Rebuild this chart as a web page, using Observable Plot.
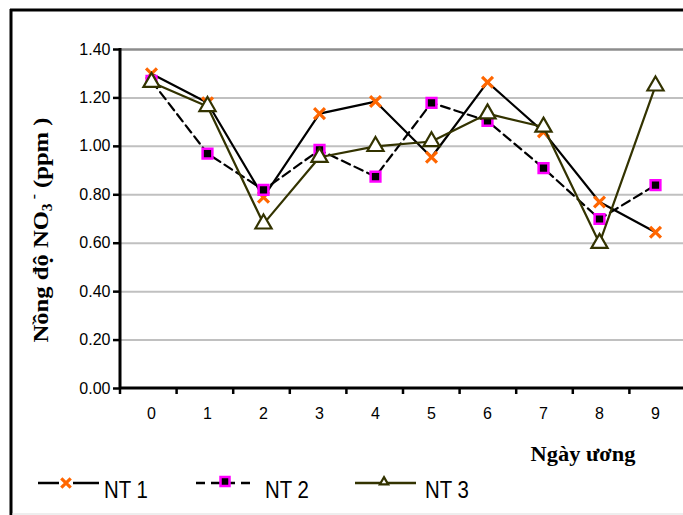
<!DOCTYPE html>
<html>
<head>
<meta charset="utf-8">
<script src="https://cdn.jsdelivr.net/npm/d3@7"></script>
<script src="https://cdn.jsdelivr.net/npm/@observablehq/plot@0.6"></script>
<style>
  html, body { margin: 0; padding: 0; background: #fff; }
  #chart { position: relative; width: 683px; height: 515px; }
</style>
</head>
<body>
<div id="chart"></div>
<script>
const days = ["0","1","2","3","4","5","6","7","8","9"];
const nt1 = [1.30, 1.18, 0.79, 1.135, 1.185, 0.955, 1.265, 1.06, 0.77, 0.645];
const nt2 = [1.27, 0.97, 0.82, 0.985, 0.875, 1.18, 1.105, 0.91, 0.70, 0.84];
const nt3 = [1.265, 1.165, 0.68, 0.955, 1.00, 1.02, 1.135, 1.08, 0.60, 1.25];
const yTicks = [0, 0.2, 0.4, 0.6, 0.8, 1.0, 1.2, 1.4];
const seriesNames = ["NT 1", "NT 2", "NT 3"];

const rows = (vals) => days.map((d, i) => ({day: d, v: vals[i]}));
const d1 = rows(nt1), d2 = rows(nt2), d3r = rows(nt3);

const olive = "#333300";
const orange = "#FF6600";
const magenta = "#FF00FF";
const sans = "'Liberation Sans', Arial, sans-serif";

const plot = Plot.plot({
  width: 683,
  height: 515,
  marginLeft: 120,
  marginTop: 49,
  marginBottom: 127,
  marginRight: 0,
  style: {fontFamily: sans, fontSize: "16px", color: "#000", background: "#fff"},
  x: {type: "band", domain: days, range: [120, 686], padding: 0, label: null},
  y: {domain: [0, 1.4], range: [388, 49], label: null},
  marks: [
    Plot.ruleY(yTicks.filter(t => t > 0 && t < 1.4), {y: d => d, stroke: "#c0c0c0", strokeWidth: 2, strokeOpacity: 1}),
    Plot.ruleY([1.4], {stroke: "#8c8c8c", strokeWidth: 2.5, strokeOpacity: 1}),
    Plot.line(d1, {x: "day", y: "v", stroke: "#000", strokeWidth: 2.2}),
    Plot.dot(d1, {x: "day", y: "v", symbol: "times", r: 5, stroke: orange, strokeWidth: 3.2}),
    Plot.line(d2, {x: "day", y: "v", stroke: "#000", strokeWidth: 2.2, strokeDasharray: "9,5"}),
    Plot.dot(d2, {x: "day", y: "v", symbol: "square", r: 5.5, fill: "#000", stroke: magenta, strokeWidth: 2.5}),
    Plot.line(d3r, {x: "day", y: "v", stroke: olive, strokeWidth: 2.2}),
    Plot.dot(d3r, {x: "day", y: "v", symbol: "triangle", r: 6, fill: "#fff", stroke: olive, strokeWidth: 2.2}),
    Plot.axisY(yTicks, {tickFormat: d => d.toFixed(2), tickSize: 7, tickPadding: 3, stroke: "#000", strokeWidth: 2.5, fontSize: 16, fontFamily: sans}),
    Plot.axisX({tickSize: 0, tickPadding: 19, fontSize: 16, fontFamily: sans}),
  ]
});

document.getElementById("chart").appendChild(plot);
const svg = d3.select(plot);

const y = plot.scale("y");
const g = svg.append("g");
const bw = (686 - 120) / days.length;
days.forEach((d, i) => {
  g.append("line").attr("x1", 120 + i * bw).attr("x2", 120 + i * bw)
    .attr("y1", y.apply(0)).attr("y2", y.apply(0) + 6).attr("stroke", "#000").attr("stroke-width", 2.5);
});
g.append("line").attr("x1", 120).attr("x2", 686).attr("y1", y.apply(0)).attr("y2", y.apply(0))
  .attr("stroke", "#000").attr("stroke-width", 3);
g.append("line").attr("x1", 120).attr("x2", 120).attr("y1", y.apply(1.4) - 1).attr("y2", y.apply(0) + 1)
  .attr("stroke", "#000").attr("stroke-width", 3);

// frame
g.append("line").attr("x1", 10).attr("x2", 683).attr("y1", 10).attr("y2", 10).attr("stroke", "#000").attr("stroke-width", 3);
g.append("line").attr("x1", 11).attr("x2", 11).attr("y1", 9).attr("y2", 515).attr("stroke", "#000").attr("stroke-width", 3);
g.append("line").attr("x1", 12).attr("x2", 683).attr("y1", 514).attr("y2", 514).attr("stroke", "#ddd").attr("stroke-width", 1);

const serif = "'Liberation Serif', 'Times New Roman', serif";
// y axis title
const yt = g.append("text")
  .attr("transform", "translate(48,230) rotate(-90) scale(1.12,1)")
  .style("text-anchor", "middle")
  .style("font-family", serif)
  .style("font-weight", "bold").style("font-size", "22px").style("fill", "#000");
yt.append("tspan").text("Nồng độ NO");
yt.append("tspan").style("font-size", "14px").attr("dy", 4).text("3");
yt.append("tspan").style("font-size", "14px").attr("dy", -14).text(" -");
yt.append("tspan").attr("dy", 10).text(" (ppm )");

// x axis title
g.append("text").attr("transform", "translate(583,461) scale(1.12,1)")
  .style("text-anchor", "middle")
  .style("font-family", serif)
  .style("font-weight", "bold").style("font-size", "20px").style("fill", "#000")
  .text("Ngày ương");

// legend
const leg = g.append("g");
const items = [
  {name: seriesNames[0], x0: 38, x1: 99, mx: 66, tx: 104, dash: null, color: "#000"},
  {name: seriesNames[1], x0: 196, x1: 252, mx: 225, tx: 265, dash: "9,6", color: "#000"},
  {name: seriesNames[2], x0: 355, x1: 416, mx: 384, tx: 425, dash: null, color: olive}
];
const ly = 483;
items.forEach((it, i) => {
  leg.append("line").attr("x1", it.x0).attr("x2", it.x1).attr("y1", ly).attr("y2", ly)
    .attr("stroke", it.color).attr("stroke-width", 2.5).attr("stroke-dasharray", it.dash);
  if (i === 0) {
    leg.append("rect").attr("x", it.mx - 7).attr("y", ly - 6).attr("width", 14).attr("height", 12).attr("fill", "#fff");
    leg.append("path").attr("d", d3.symbol(d3.symbolTimes, 60)()).attr("transform", `translate(${it.mx},${ly})`)
      .attr("stroke", orange).attr("stroke-width", 3.2).attr("fill", "none");
  } else if (i === 1) {
    leg.append("rect").attr("x", it.mx - 4.5).attr("y", ly - 6).attr("width", 9).attr("height", 9)
      .attr("fill", "#000").attr("stroke", magenta).attr("stroke-width", 2.5);
  } else {
    leg.append("path").attr("d", d3.symbol(d3.symbolTriangle2, 50)()).attr("transform", `translate(${it.mx},${ly - 1})`)
      .attr("stroke", olive).attr("stroke-width", 2.2).attr("fill", "#fff");
  }
  leg.append("text").attr("transform", `translate(${it.tx},${ly + 15}) scale(0.85,1)`)
    .style("text-anchor", "start")
    .style("font-family", sans)
    .style("font-size", "24px").style("fill", "#000").text(it.name);
});
</script>
</body>
</html>
